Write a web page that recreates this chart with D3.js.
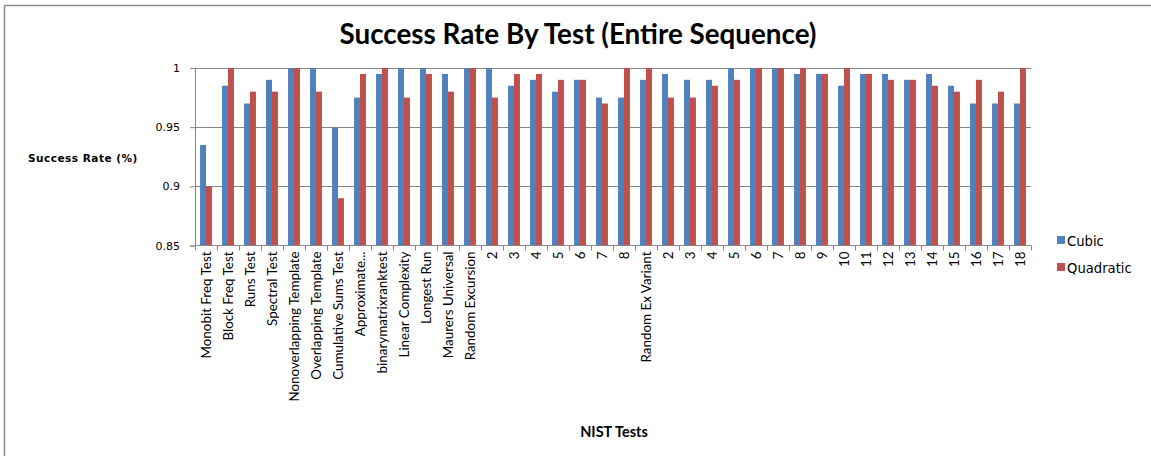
<!DOCTYPE html>
<html>
<head>
<meta charset="utf-8">
<script src="https://cdn.jsdelivr.net/npm/d3@7"></script>
<style>
  body { margin: 0; background: #fff; }
  svg { display: block; }
</style>
</head>
<body>
<div id="chart"></div>
<script>
// chart canvas
var svgWidth = 1151;
var svgHeight = 456;

// plot area
var plot = { left: 195, right: 1031, top: 68, bottom: 245.5 };

// data
var tests = ["Monobit Freq Test", "Block Freq Test", "Runs Test", "Spectral Test",
  "Nonoverlapping Template", "Overlapping Template", "Cumulative Sums Test",
  "Approximate...", "binarymatrixranktest", "Linear Complexity", "Longest Run",
  "Maurers Universal", "Random Excursion", "2", "3", "4", "5", "6", "7", "8",
  "Random Ex Variant", "2", "3", "4", "5", "6", "7", "8", "9", "10", "11", "12",
  "13", "14", "15", "16", "17", "18"];
var cubic = [0.935, 0.985, 0.97, 0.99, 1, 1, 0.95, 0.975, 0.995, 1, 1, 0.995, 1,
  1, 0.985, 0.99, 0.98, 0.99, 0.975, 0.975,
  0.99, 0.995, 0.99, 0.99, 1, 1, 1, 0.995, 0.995, 0.985, 0.995, 0.995, 0.99,
  0.995, 0.985, 0.97, 0.97, 0.97];
var quadratic = [0.9, 1, 0.98, 0.98, 1, 0.98, 0.89, 0.995, 1, 0.975, 0.995, 0.98, 1,
  0.975, 0.995, 0.995, 0.99, 0.99, 0.97, 1,
  1, 0.975, 0.975, 0.985, 0.99, 1, 1, 1, 0.995, 1, 0.995, 0.99, 0.99,
  0.985, 0.98, 0.99, 0.98, 1];
var seriesNames = ["Cubic", "Quadratic"];
var seriesColors = ["#4F81BD", "#C0504D"];
var yTicks = [0.85, 0.9, 0.95, 1];

var rows = tests.map(function(t, i) {
    return { idx: i, label: t, values: [cubic[i], quadratic[i]] };
});

var svg = d3.select("#chart")
    .append("svg")
    .attr("width", svgWidth)
    .attr("height", svgHeight);

// chart border (only top/left visible in the picture)
svg.append("path")
    .attr("d", "M4.5,456 L4.5,5.5 L1151,5.5")
    .attr("fill", "none")
    .attr("stroke", "#8c8c8c")
    .attr("stroke-width", 1.5);

// scales
var xScale = d3.scaleBand()
    .domain(d3.range(tests.length))
    .range([plot.left, plot.right])
    .paddingInner(0.46)
    .paddingOuter(0.23);

var xSub = d3.scaleBand()
    .domain([0, 1])
    .range([0, xScale.bandwidth()]);

var yScale = d3.scaleLinear()
    .domain([0.85, 1])
    .range([plot.bottom, plot.top]);

// gridlines
svg.append("g")
    .selectAll("line")
    .data(yTicks.slice(1))
    .enter()
    .append("line")
    .attr("x1", plot.left)
    .attr("x2", plot.right)
    .attr("y1", d => Math.round(yScale(d)) + 0.5)
    .attr("y2", d => Math.round(yScale(d)) + 0.5)
    .attr("stroke", "#868686")
    .attr("stroke-width", 1);

// bars
var groups = svg.append("g")
    .selectAll("g")
    .data(rows)
    .enter()
    .append("g")
    .attr("transform", d => `translate(${xScale(d.idx)},0)`);

groups.selectAll("rect")
    .data(d => d.values)
    .enter()
    .append("rect")
    .attr("x", (d, i) => xSub(i))
    .attr("y", d => yScale(d))
    .attr("width", xSub.bandwidth())
    .attr("height", d => yScale(0.85) - yScale(d))
    .attr("fill", (d, i) => seriesColors[i]);

// y axis
var yAxis = d3.axisLeft(yScale)
    .tickValues(yTicks)
    .tickFormat(d3.format("~g"))
    .tickSize(5)
    .tickPadding(10);

var yG = svg.append("g")
    .attr("transform", `translate(${plot.left},0)`)
    .call(yAxis);
yG.select(".domain").attr("stroke", "#868686");
yG.selectAll(".tick line").attr("stroke", "#868686");
yG.selectAll("text")
    .attr("font-family", "DejaVu Sans, Verdana, sans-serif")
    .attr("font-size", 11)
    .attr("fill", "#000");

// x axis line with ticks between categories
var step = xScale.step();
svg.append("line")
    .attr("x1", plot.left)
    .attr("x2", plot.right)
    .attr("y1", plot.bottom)
    .attr("y2", plot.bottom)
    .attr("stroke", "#868686");

svg.append("g")
    .selectAll("line")
    .data(d3.range(tests.length + 1))
    .enter()
    .append("line")
    .attr("x1", d => Math.round(plot.left + d * step) + 0.5)
    .attr("x2", d => Math.round(plot.left + d * step) + 0.5)
    .attr("y1", plot.bottom)
    .attr("y2", plot.bottom + 5)
    .attr("stroke", "#868686");

// x labels, rotated
svg.append("g")
    .selectAll("text")
    .data(rows)
    .enter()
    .append("text")
    .attr("transform", d => `translate(${xScale(d.idx) + xScale.bandwidth() / 2 + 4.5},${plot.bottom + 6}) rotate(-90)`)
    .attr("text-anchor", "end")
    .attr("font-family", "Lato, sans-serif")
    .attr("font-size", 13.4)
    .attr("fill", "#000")
    .text(d => d.label);

// title
svg.append("text")
    .attr("x", 578)
    .attr("y", 44)
    .attr("text-anchor", "middle")
    .attr("font-family", "Lato, sans-serif")
    .attr("font-weight", "bold")
    .attr("font-size", 27.8)
    .attr("fill", "#000")
    .text("Success Rate By Test (Entire Sequence)");

// y axis title
svg.append("text")
    .attr("x", 28)
    .attr("y", 162)
    .attr("font-family", "DejaVu Sans, sans-serif")
    .attr("font-weight", "bold")
    .attr("font-size", 10.5)
    .attr("letter-spacing", 0.5)
    .attr("fill", "#000")
    .text("Success Rate (%)");

// x axis title
svg.append("text")
    .attr("x", 614)
    .attr("y", 437)
    .attr("text-anchor", "middle")
    .attr("font-family", "Lato, sans-serif")
    .attr("font-weight", "bold")
    .attr("font-size", 14.5)
    .attr("fill", "#000")
    .text("NIST Tests");

// legend
var legend = svg.append("g")
    .selectAll("g")
    .data(seriesNames)
    .enter()
    .append("g")
    .attr("transform", (d, i) => `translate(1057,${236 + i * 27})`);

legend.append("rect")
    .attr("width", 8)
    .attr("height", 8)
    .attr("fill", (d, i) => seriesColors[i]);

legend.append("text")
    .attr("x", 10)
    .attr("y", 9.5)
    .attr("font-family", "DejaVu Sans, Verdana, sans-serif")
    .attr("font-size", 13.2)
    .attr("fill", "#000")
    .text(d => d);
</script>
</body>
</html>
